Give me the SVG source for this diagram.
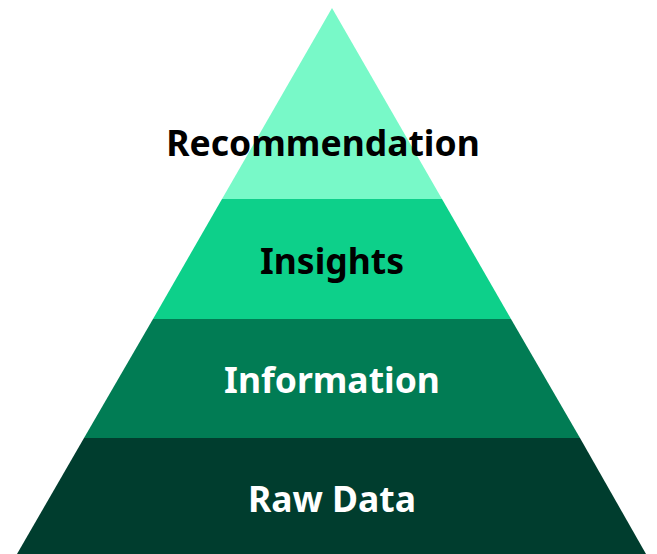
<svg xmlns="http://www.w3.org/2000/svg" width="657" height="554" viewBox="0 0 657 554">
<style>
text{font-family:"Noto Sans","Open Sans",sans-serif;font-weight:700;font-size:35.5px;text-anchor:middle}
.dark{fill:#000000}
.light{fill:#ffffff}
</style>
<rect width="657" height="554" fill="#ffffff"/>
<g id="level-recommendation">
<polygon points="332,8 442,199 222,199" fill="#78F9C8"/>
<text class="dark" x="323" y="156">Recommendation</text>
</g>
<g id="level-insights">
<polygon points="222,199 442,199 511,319 153,319" fill="#0DD08A"/>
<text class="dark" x="332" y="274">Insights</text>
</g>
<g id="level-information">
<polygon points="153,319 511,319 580,438 84,438" fill="#017C54"/>
<text class="light" x="332" y="393">Information</text>
</g>
<g id="level-rawdata">
<polygon points="84,438 580,438 646,554 17,554" fill="#003D2E"/>
<text class="light" x="332" y="512">Raw Data</text>
</g>
</svg>
